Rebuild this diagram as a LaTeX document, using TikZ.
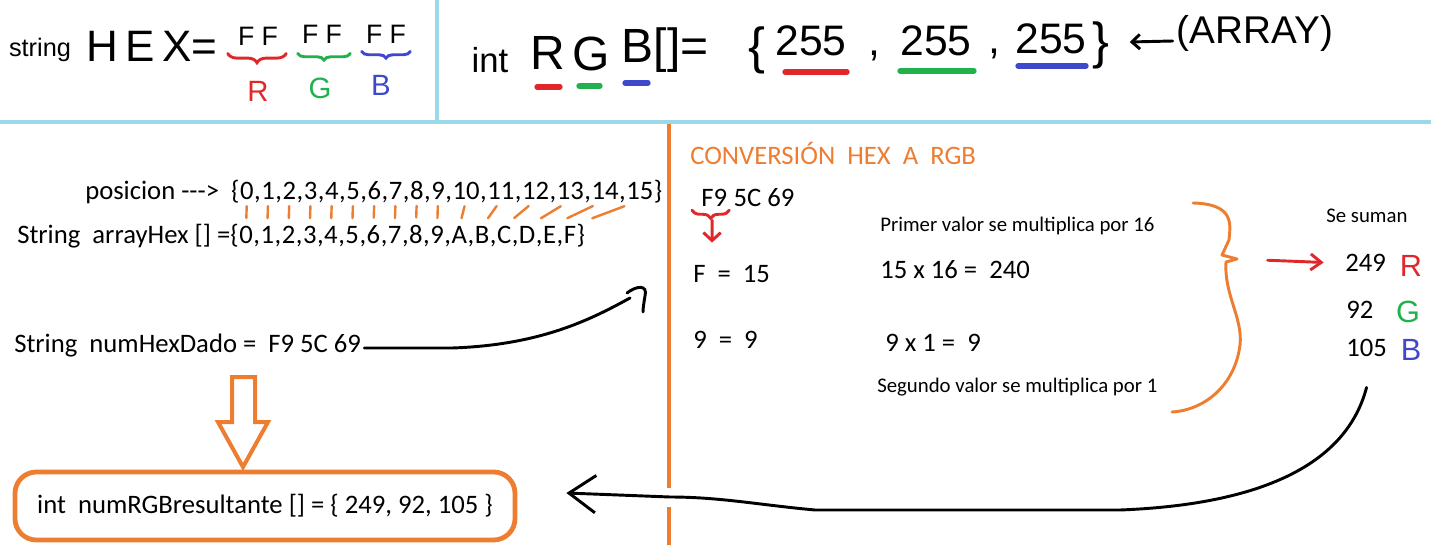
\documentclass[tikz,border=0pt]{standalone}
\usepackage{fontspec}
\setmainfont{Carlito}
\newfontfamily\handfont{Liberation Sans}
\usepackage{tikz}
\usetikzlibrary{positioning, arrows.meta, calc, decorations.pathreplacing}
\definecolor{hxRed}{HTML}{E0282B}
\definecolor{hxGreen}{HTML}{22B14C}
\definecolor{hxBlue}{HTML}{3F48CC}
\definecolor{hxOrange}{HTML}{ED7D31}
\definecolor{hxSky}{HTML}{99D9EA}
\tikzset{
  body/.style={anchor=base west, inner sep=0pt, font=\fontsize{20}{24}\selectfont},
  note/.style={anchor=base west, inner sep=0pt, font=\fontsize{15.6}{18}\selectfont},
  hand/.style={inner sep=0pt, font=\handfont\fontsize{#1}{#1}\selectfont},
  pen/.style={line width=2.2pt, line cap=round, line join=round},
  colorbar/.style={draw=#1, line width=4pt, line cap=round},
  handbrace/.style={draw=#1, line width=2.2pt, line cap=round,
    decorate, decoration={brace, mirror, amplitude=7pt}},
  tickmark/.style={hxOrange, line width=1.8pt, line cap=round},
  frame/.style={hxSky, line width=3.5pt},
  resbox/.style={draw=hxOrange, line width=3.6pt, rounded corners=16pt,
    minimum width=375pt, minimum height=51pt, inner sep=0pt,
    font=\fontsize{20}{24}\selectfont}
}

\begin{document}
\begin{tikzpicture}[x=0.75pt, y=-0.75pt]
  \useasboundingbox (0,0) rectangle (1431,545);
  % frames
  \draw[frame] (0,122) -- (1431,122);
  \draw[frame] (437,0) -- (437,122);
  \draw[hxOrange, line width=2.4pt] (669,124) -- (669,488);
  \draw[hxOrange, line width=2.4pt] (669,507) -- (669,545);

  % string HEX = FF FF FF
  \node[hand=19] (strw) at (40,50) {string};
  \node[hand=33] (hexw) at (152,46) {H\,E\,X=};
  \node[hand=20] (ffr) at (258,36) {F F};
  \node[hand=20] (ffg) at (322,34) {F F};
  \node[hand=20] (ffb) at (386,34) {F F};
  \draw[handbrace=hxRed] ($(ffr.south west)+(-10,8)$) -- ($(ffr.south east)+(8,8)$);
  \draw[handbrace=hxGreen, decoration={amplitude=5pt}] ($(ffg.south west)+(-4,10)$) -- ($(ffg.south east)+(8,10)$);
  \draw[handbrace=hxBlue, decoration={amplitude=5pt}] ($(ffb.south west)+(-4,8)$) -- ($(ffb.south east)+(4,8)$);
  \node[hand=22, text=hxRed] (lr) at (258,91) {R};
  \node[hand=22, text=hxGreen] (lg) at (320,88) {G};
  \node[hand=22, text=hxBlue] (lb) at (381,85) {B};

  % int RGB[] = {255,255,255}
  \node[hand=26] (intw) at (490,60) {int};
  \node[hand=36] (rw) at (548,53) {R};
  \node[hand=36] (gw) at (591,54) {G};
  \node[hand=36] (bw) at (665,50) {B[]=};
  \draw[colorbar=hxRed] (537,87) -- (560,87);
  \draw[colorbar=hxGreen] (579,86) -- (600,86);
  \draw[colorbar=hxBlue] (625,83) -- (648,83);
  \node[hand=38] (lbr) at (757,50) {\{};
  \node[hand=32] (v1) at (811,41) {255};
  \node[hand=32] (c1) at (874,56) {,};
  \node[hand=32] (v2) at (936,41) {255};
  \node[hand=32] (c2) at (994,54) {,};
  \node[hand=32] (v3) at (1051,39) {255};
  \node[hand=38] (rbr) at (1101,45) {\}};
  \draw[colorbar=hxRed] (785,72) -- (847,72);
  \draw[colorbar=hxGreen] (900,71) -- (974,71);
  \draw[colorbar=hxBlue] (1018,66) -- (1086,66);
  \node[hand=29] (arr) at (1255,33) {(ARRAY)};
  \draw[pen, -{Straight Barb[length=6pt, width=11pt]}] ($(arr.west)+(-4,8)$) -- ($(rbr.east)+(20,-3)$);

  % posicion / arrayHex
  \node[body] (pos) at (85,200) {posicion -{}-{}->~~\{};
  \foreach \v [count=\i from 0] in {0,...,15} {
    \pgfmathtruncatemacro\prevnum{\i-1}
    \ifnum\i=0 \def\lastcell{pos}\else\edef\lastcell{pk\prevnum}\fi
    \node[body] (pn\i) at (\lastcell.base east) {\v};
    \ifnum\i<15 \def\cellsep{,}\else\def\cellsep{\}}\fi
    \node[body] (pk\i) at (pn\i.base east) {\cellsep};
  }
  \node[body] (ahex) at (17,244) {String~~arrayHex [] =\{};
  \foreach \c [count=\i from 0] in {0,1,2,3,4,5,6,7,8,9,A,B,C,D,E,F} {
    \pgfmathtruncatemacro\prevnum{\i-1}
    \ifnum\i=0 \def\lastcell{ahex}\else\edef\lastcell{hk\prevnum}\fi
    \node[body] (hx\i) at (\lastcell.base east) {\c};
    \ifnum\i<15 \def\cellsep{,}\else\def\cellsep{\}}\fi
    \node[body] (hk\i) at (hx\i.base east) {\cellsep};
  }
  \foreach \i in {0,...,15}
    \draw[tickmark] ($(pn\i.south)!0.22!(hx\i.north)$) -- ($(pn\i.south)!0.68!(hx\i.north)$);

  % numHexDado
  \node[body] (hexdado) at (14,352) {String~~numHexDado =~~F9 5C 69};
  \coordinate (hookend) at (630,298);
  \draw[pen] ($(hexdado.base east)+(3,-4)$) -- ++(88,0)
    .. controls (540,345) and (590,320) .. (hookend);
  \draw[pen] ($(hookend)+(-3,-5)$) .. controls (636,286) and (648,284) .. (645,296)
    .. controls (644,302) and (643,308) .. (643,312);

  % block arrow down
  \draw[hxOrange, line width=3pt, line join=miter]
    (232,377) -- (255,377) -- (255,422) -- (268,422) -- (243,467)
    -- (218,422) -- (232,422) -- cycle;
  \node[resbox] (rgbres) at (265,506) {int~~numRGBresultante [] = \{ 249, 92, 105 \}};

  % conversion panel
  \node[body, text=hxOrange] (convt) at (690,165) {CONVERSIÓN~~HEX~~A~~RGB};
  \node[body] (hexF) at (701,207) {F9};
  \node[body] (hexrest) at (hexF.base east) {~5C 69};
  \draw[handbrace=hxRed, decoration={amplitude=6pt}] ($(hexF.south west)+(-9,3)$) -- ($(hexF.south east)+(2,3)$);
  \node[body] (fe) at (693,282) {F~~=~~15};
  \draw[pen, hxRed, -{Straight Barb[length=6pt, width=13pt]}] ($(hexF.south)+(-2,13)$) -- ($(fe.north west)+(19,-22)$);
  \node[body] (ne) at (693,349) {9~~=~~9};
  \node[note] (primer) at (880,232) {Primer valor se multiplica por 16};
  \node[body] (m16) at (880,279) {15 x 16 =~~240};
  \node[body] (m1) at (885,351) {9 x 1 =~~9};
  \node[note] (segundo) at (877,392) {Segundo valor se multiplica por 1};

  % big brace
  \coordinate (btip) at (1237,259);
  \draw[hxOrange, line width=2.2pt, line cap=round, line join=round]
    (1193,203) .. controls (1236,204) and (1230,226) .. (1229,240)
    -- (1222,255) -- (btip) -- (1226,262)
    .. controls (1224,295) and (1243,318) .. (1240,345)
    .. controls (1235,385) and (1205,410) .. (1172,412);

  % sums
  \node[note] (suman) at (1326,223) {Se suman};
  \node[body] (s249) at (1345,272) {249};
  \node[body] (s92) at (1346,318) {92};
  \node[body] (s105) at (1346,356) {105};
  \node[hand=23, text=hxRed] (cr) at (1411,266) {R};
  \node[hand=23, text=hxGreen] (cg) at (1408,312) {G};
  \node[hand=23, text=hxBlue] (cb) at (1411,350) {B};
  \draw[pen, hxRed, -{Straight Barb[length=8pt, width=12pt]}, shorten <=23pt, shorten >=16pt] (btip) -- (s249.west);

  % return arrow
  \draw[pen, -{Straight Barb[length=20pt, width=28pt]}]
    ($(s105.south)+(0,31)$) .. controls (1345,470) and (1250,505) .. (1120,510)
    -- (815,510) .. controls (760,505) and (720,497) .. (670,497)
    -- ($(rgbres.east)+(49,-13)$);
\end{tikzpicture}
\end{document}
